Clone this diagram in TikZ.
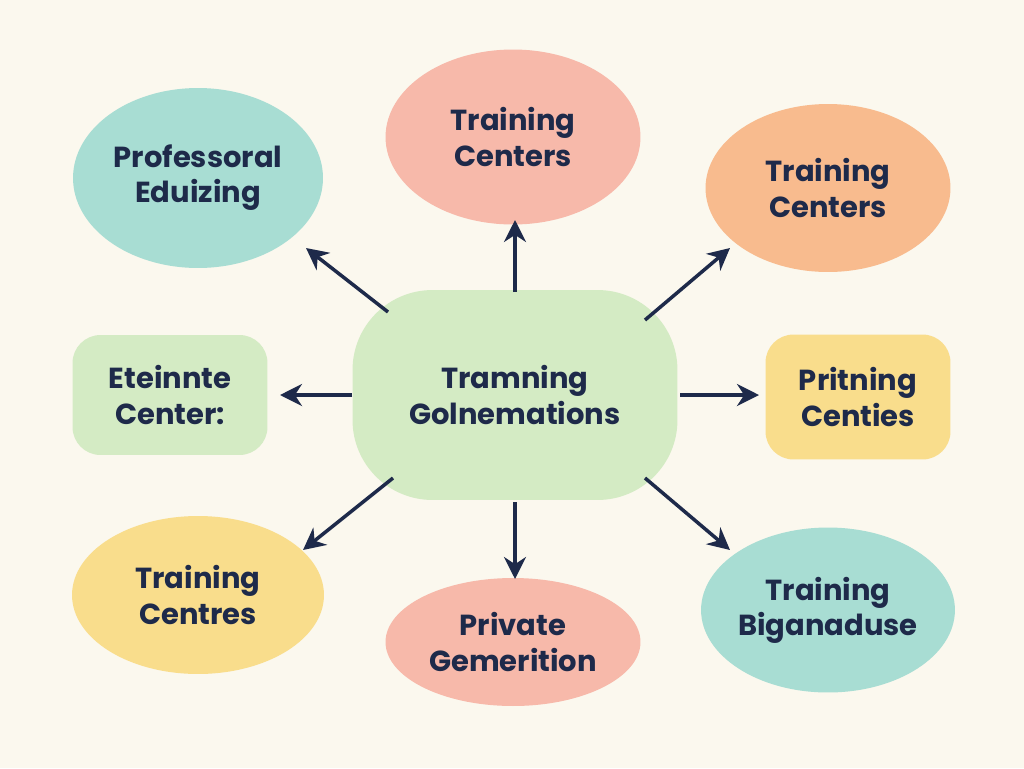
\documentclass[tikz,border=0pt]{standalone}
\usepackage{fontspec}
\setmainfont{Poppins}
\usetikzlibrary{shapes.geometric,arrows.meta}
\definecolor{paper}{HTML}{FBF8EE}
\definecolor{navy}{HTML}{1E2A4A}
\definecolor{blobgreen}{HTML}{D4EBC4}
\definecolor{blobpink}{HTML}{F7B9AA}
\definecolor{blobteal}{HTML}{A8DDD3}
\definecolor{bloborange}{HTML}{F8BB8E}
\definecolor{blobyellow}{HTML}{F9DD8C}
\tikzset{
  blob/.style={ellipse, inner sep=0pt, align=center, text=navy,
    font=\fontsize{16.5}{20}\selectfont\bfseries},
  pill/.style={rectangle, rounded corners=0.56cm, inner sep=0pt, align=center,
    text=navy, font=\fontsize{16.5}{20}\selectfont\bfseries},
  link/.style={draw=navy, line width=0.07cm, -{Stealth[length=0.44cm,width=0.44cm]}}
}
\begin{document}
\begin{tikzpicture}[x=0.02cm, y=-0.02cm]
\fill[paper] (0,0) rectangle (1024,768);
\useasboundingbox (0,0) rectangle (1024,768);
% centre blob
\node[pill, rounded corners=1.6cm, fill=blobgreen, minimum width=6.5cm, minimum height=4.2cm]
  (hub) at (515,395) {Tramning\\Golnemations};
% outer blobs
\node[blob, fill=blobpink, minimum width=5.1cm, minimum height=3.5cm] (top) at (513,137) {Training\\Centers};
\node[blob, fill=blobteal, minimum width=5cm, minimum height=3.6cm] (topleft) at (198,178) {Professoral\\Eduizing};
\node[blob, fill=bloborange, minimum width=4.9cm, minimum height=3.36cm] (topright) at (828,188) {Training\\Centers};
\node[pill, fill=blobgreen, minimum width=3.9cm, minimum height=2.4cm] (left) at (170,395) {Eteinnte\\Center:};
\node[pill, fill=blobyellow, minimum width=3.7cm, minimum height=2.5cm] (right) at (858,397) {Pritning\\Centies};
\node[blob, fill=blobyellow, minimum width=5.04cm, minimum height=3.16cm] (botleft) at (198,595) {Training\\Centres};
\node[blob, fill=blobpink, minimum width=5.1cm, minimum height=2.56cm] (bottom) at (513,642) {Private\\Gemerition};
\node[blob, fill=blobteal, minimum width=4.9cm, minimum height=3.3cm] (botright) at (828,610) {Training\\Biganaduse};
% arrow ends
\coordinate (nw0) at (388,312); \coordinate (nw1) at (306,248);
\coordinate (ne0) at (645,320); \coordinate (ne1) at (730,248);
\coordinate (sw0) at (393,478); \coordinate (sw1) at (303,550);
\coordinate (se0) at (645,478); \coordinate (se1) at (730,550);
\coordinate (n0) at (515,292);  \coordinate (n1) at (515,220);
\coordinate (s0) at (515,502);  \coordinate (s1) at (515,579);
\coordinate (w0) at (352,395);  \coordinate (w1) at (280,395);
\coordinate (e0) at (680,395);  \coordinate (e1) at (759,395);
% connectors
\draw[link] (n0) -- (n1);
\draw[link] (nw0) -- (nw1);
\draw[link] (ne0) -- (ne1);
\draw[link] (w0) -- (w1);
\draw[link] (e0) -- (e1);
\draw[link] (sw0) -- (sw1);
\draw[link] (s0) -- (s1);
\draw[link] (se0) -- (se1);
\end{tikzpicture}
\end{document}
